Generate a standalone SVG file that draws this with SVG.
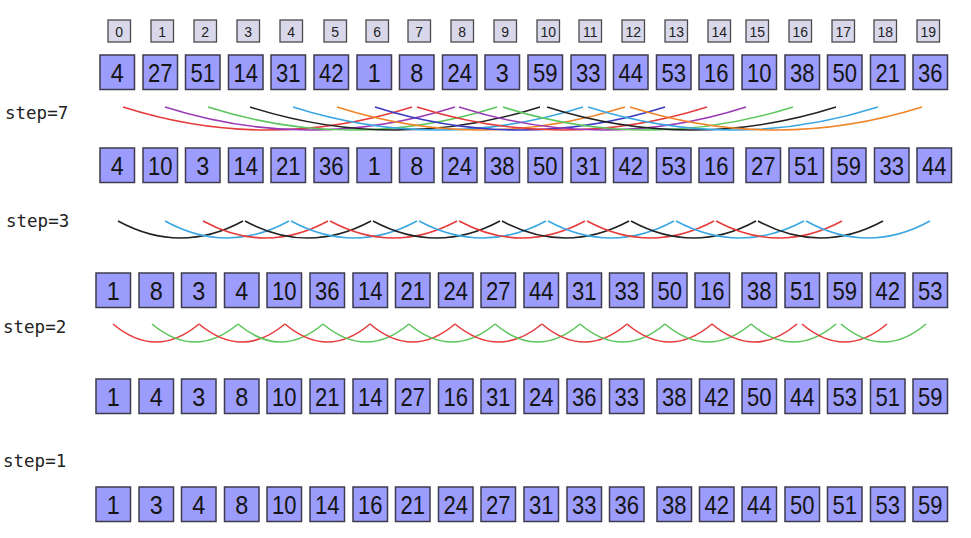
<svg xmlns="http://www.w3.org/2000/svg" width="971" height="538" viewBox="0 0 971 538">
<style>
.v use{fill:#9c9cfc;stroke:#3c3c4c;stroke-width:1.5}
.v text{font-family:"Liberation Sans",Arial,sans-serif;font-size:26.5px;text-anchor:middle;fill:#141414}
.i use{fill:#d8d8ea;stroke:#4a4a4a;stroke-width:1.3}
.i text{font-family:"Liberation Sans",Arial,sans-serif;font-size:14px;text-anchor:middle;fill:#222}
.lbl{font-family:"DejaVu Sans Mono","Liberation Mono",monospace;font-size:17.5px;fill:#222}
.c path{fill:none;stroke-width:1.6}
.rd{stroke:#e63c3c}.pu{stroke:#9a3ab4}.gr{stroke:#5cc65c}.bk{stroke:#222}.bl{stroke:#3aa6e2}.or{stroke:#f08428}.db{stroke:#3a3ac4}
</style>
<rect width="971" height="538" fill="#fff"/>
<defs>
<rect id="vb" width="34.5" height="34.5"/>
<rect id="ib" width="22.5" height="22"/>
</defs>
<g id="labels">
<text class="lbl" x="5" y="119">step=7</text>
<text class="lbl" x="6" y="227">step=3</text>
<text class="lbl" x="3" y="333">step=2</text>
<text class="lbl" x="3" y="467">step=1</text>
</g>
<g id="index-row" class="i">
<g id="i0" transform="translate(108,20)"><use href="#ib"/><text x="11.25" y="16.8">0</text></g>
<g id="i1" transform="translate(151,20)"><use href="#ib"/><text x="11.25" y="16.8">1</text></g>
<g id="i2" transform="translate(194,20)"><use href="#ib"/><text x="11.25" y="16.8">2</text></g>
<g id="i3" transform="translate(237,20)"><use href="#ib"/><text x="11.25" y="16.8">3</text></g>
<g id="i4" transform="translate(280,20)"><use href="#ib"/><text x="11.25" y="16.8">4</text></g>
<g id="i5" transform="translate(324,20)"><use href="#ib"/><text x="11.25" y="16.8">5</text></g>
<g id="i6" transform="translate(366,20)"><use href="#ib"/><text x="11.25" y="16.8">6</text></g>
<g id="i7" transform="translate(408,20)"><use href="#ib"/><text x="11.25" y="16.8">7</text></g>
<g id="i8" transform="translate(451,20)"><use href="#ib"/><text x="11.25" y="16.8">8</text></g>
<g id="i9" transform="translate(494,20)"><use href="#ib"/><text x="11.25" y="16.8">9</text></g>
<g id="i10" transform="translate(537,20)"><use href="#ib"/><text x="11.25" y="16.8">10</text></g>
<g id="i11" transform="translate(579,20)"><use href="#ib"/><text x="11.25" y="16.8">11</text></g>
<g id="i12" transform="translate(622,20)"><use href="#ib"/><text x="11.25" y="16.8">12</text></g>
<g id="i13" transform="translate(665,20)"><use href="#ib"/><text x="11.25" y="16.8">13</text></g>
<g id="i14" transform="translate(708,20)"><use href="#ib"/><text x="11.25" y="16.8">14</text></g>
<g id="i15" transform="translate(746,20)"><use href="#ib"/><text x="11.25" y="16.8">15</text></g>
<g id="i16" transform="translate(789,20)"><use href="#ib"/><text x="11.25" y="16.8">16</text></g>
<g id="i17" transform="translate(832,20)"><use href="#ib"/><text x="11.25" y="16.8">17</text></g>
<g id="i18" transform="translate(874,20)"><use href="#ib"/><text x="11.25" y="16.8">18</text></g>
<g id="i19" transform="translate(917,20)"><use href="#ib"/><text x="11.25" y="16.8">19</text></g>
</g>
<g id="row-initial" class="v">
<g id="a0" transform="translate(100,55)"><use href="#vb"/><text x="17.25" y="27" textLength="13" lengthAdjust="spacingAndGlyphs">4</text></g>
<g id="a1" transform="translate(143,55)"><use href="#vb"/><text x="17.25" y="27" textLength="24.5" lengthAdjust="spacingAndGlyphs">27</text></g>
<g id="a2" transform="translate(185.5,55)"><use href="#vb"/><text x="17.25" y="27" textLength="24.5" lengthAdjust="spacingAndGlyphs">51</text></g>
<g id="a3" transform="translate(228.5,55)"><use href="#vb"/><text x="17.25" y="27" textLength="24.5" lengthAdjust="spacingAndGlyphs">14</text></g>
<g id="a4" transform="translate(271,55)"><use href="#vb"/><text x="17.25" y="27" textLength="24.5" lengthAdjust="spacingAndGlyphs">31</text></g>
<g id="a5" transform="translate(314,55)"><use href="#vb"/><text x="17.25" y="27" textLength="24.5" lengthAdjust="spacingAndGlyphs">42</text></g>
<g id="a6" transform="translate(357,55)"><use href="#vb"/><text x="17.25" y="27" textLength="13" lengthAdjust="spacingAndGlyphs">1</text></g>
<g id="a7" transform="translate(399.5,55)"><use href="#vb"/><text x="17.25" y="27" textLength="13" lengthAdjust="spacingAndGlyphs">8</text></g>
<g id="a8" transform="translate(442.5,55)"><use href="#vb"/><text x="17.25" y="27" textLength="24.5" lengthAdjust="spacingAndGlyphs">24</text></g>
<g id="a9" transform="translate(485,55)"><use href="#vb"/><text x="17.25" y="27" textLength="13" lengthAdjust="spacingAndGlyphs">3</text></g>
<g id="a10" transform="translate(528,55)"><use href="#vb"/><text x="17.25" y="27" textLength="24.5" lengthAdjust="spacingAndGlyphs">59</text></g>
<g id="a11" transform="translate(571,55)"><use href="#vb"/><text x="17.25" y="27" textLength="24.5" lengthAdjust="spacingAndGlyphs">33</text></g>
<g id="a12" transform="translate(613.5,55)"><use href="#vb"/><text x="17.25" y="27" textLength="24.5" lengthAdjust="spacingAndGlyphs">44</text></g>
<g id="a13" transform="translate(656.5,55)"><use href="#vb"/><text x="17.25" y="27" textLength="24.5" lengthAdjust="spacingAndGlyphs">53</text></g>
<g id="a14" transform="translate(699,55)"><use href="#vb"/><text x="17.25" y="27" textLength="24.5" lengthAdjust="spacingAndGlyphs">16</text></g>
<g id="a15" transform="translate(742,55)"><use href="#vb"/><text x="17.25" y="27" textLength="24.5" lengthAdjust="spacingAndGlyphs">10</text></g>
<g id="a16" transform="translate(785,55)"><use href="#vb"/><text x="17.25" y="27" textLength="24.5" lengthAdjust="spacingAndGlyphs">38</text></g>
<g id="a17" transform="translate(827.5,55)"><use href="#vb"/><text x="17.25" y="27" textLength="24.5" lengthAdjust="spacingAndGlyphs">50</text></g>
<g id="a18" transform="translate(870.5,55)"><use href="#vb"/><text x="17.25" y="27" textLength="24.5" lengthAdjust="spacingAndGlyphs">21</text></g>
<g id="a19" transform="translate(913,55)"><use href="#vb"/><text x="17.25" y="27" textLength="24.5" lengthAdjust="spacingAndGlyphs">36</text></g>
</g>
<g id="row-step7" class="v">
<g id="b0" transform="translate(100,148)"><use href="#vb"/><text x="17.25" y="27" textLength="13" lengthAdjust="spacingAndGlyphs">4</text></g>
<g id="b1" transform="translate(143,148)"><use href="#vb"/><text x="17.25" y="27" textLength="24.5" lengthAdjust="spacingAndGlyphs">10</text></g>
<g id="b2" transform="translate(185.5,148)"><use href="#vb"/><text x="17.25" y="27" textLength="13" lengthAdjust="spacingAndGlyphs">3</text></g>
<g id="b3" transform="translate(228.5,148)"><use href="#vb"/><text x="17.25" y="27" textLength="24.5" lengthAdjust="spacingAndGlyphs">14</text></g>
<g id="b4" transform="translate(271,148)"><use href="#vb"/><text x="17.25" y="27" textLength="24.5" lengthAdjust="spacingAndGlyphs">21</text></g>
<g id="b5" transform="translate(314,148)"><use href="#vb"/><text x="17.25" y="27" textLength="24.5" lengthAdjust="spacingAndGlyphs">36</text></g>
<g id="b6" transform="translate(357,148)"><use href="#vb"/><text x="17.25" y="27" textLength="13" lengthAdjust="spacingAndGlyphs">1</text></g>
<g id="b7" transform="translate(399.5,148)"><use href="#vb"/><text x="17.25" y="27" textLength="13" lengthAdjust="spacingAndGlyphs">8</text></g>
<g id="b8" transform="translate(442.5,148)"><use href="#vb"/><text x="17.25" y="27" textLength="24.5" lengthAdjust="spacingAndGlyphs">24</text></g>
<g id="b9" transform="translate(485,148)"><use href="#vb"/><text x="17.25" y="27" textLength="24.5" lengthAdjust="spacingAndGlyphs">38</text></g>
<g id="b10" transform="translate(528,148)"><use href="#vb"/><text x="17.25" y="27" textLength="24.5" lengthAdjust="spacingAndGlyphs">50</text></g>
<g id="b11" transform="translate(571,148)"><use href="#vb"/><text x="17.25" y="27" textLength="24.5" lengthAdjust="spacingAndGlyphs">31</text></g>
<g id="b12" transform="translate(613.5,148)"><use href="#vb"/><text x="17.25" y="27" textLength="24.5" lengthAdjust="spacingAndGlyphs">42</text></g>
<g id="b13" transform="translate(656.5,148)"><use href="#vb"/><text x="17.25" y="27" textLength="24.5" lengthAdjust="spacingAndGlyphs">53</text></g>
<g id="b14" transform="translate(699,148)"><use href="#vb"/><text x="17.25" y="27" textLength="24.5" lengthAdjust="spacingAndGlyphs">16</text></g>
<g id="b15" transform="translate(746,148)"><use href="#vb"/><text x="17.25" y="27" textLength="24.5" lengthAdjust="spacingAndGlyphs">27</text></g>
<g id="b16" transform="translate(789,148)"><use href="#vb"/><text x="17.25" y="27" textLength="24.5" lengthAdjust="spacingAndGlyphs">51</text></g>
<g id="b17" transform="translate(831.5,148)"><use href="#vb"/><text x="17.25" y="27" textLength="24.5" lengthAdjust="spacingAndGlyphs">59</text></g>
<g id="b18" transform="translate(874.5,148)"><use href="#vb"/><text x="17.25" y="27" textLength="24.5" lengthAdjust="spacingAndGlyphs">33</text></g>
<g id="b19" transform="translate(917,148)"><use href="#vb"/><text x="17.25" y="27" textLength="24.5" lengthAdjust="spacingAndGlyphs">44</text></g>
</g>
<g id="row-step3" class="v">
<g id="c0" transform="translate(96,273)"><use href="#vb"/><text x="17.25" y="27" textLength="13" lengthAdjust="spacingAndGlyphs">1</text></g>
<g id="c1" transform="translate(139,273)"><use href="#vb"/><text x="17.25" y="27" textLength="13" lengthAdjust="spacingAndGlyphs">8</text></g>
<g id="c2" transform="translate(181.5,273)"><use href="#vb"/><text x="17.25" y="27" textLength="13" lengthAdjust="spacingAndGlyphs">3</text></g>
<g id="c3" transform="translate(224.5,273)"><use href="#vb"/><text x="17.25" y="27" textLength="13" lengthAdjust="spacingAndGlyphs">4</text></g>
<g id="c4" transform="translate(267,273)"><use href="#vb"/><text x="17.25" y="27" textLength="24.5" lengthAdjust="spacingAndGlyphs">10</text></g>
<g id="c5" transform="translate(310,273)"><use href="#vb"/><text x="17.25" y="27" textLength="24.5" lengthAdjust="spacingAndGlyphs">36</text></g>
<g id="c6" transform="translate(353,273)"><use href="#vb"/><text x="17.25" y="27" textLength="24.5" lengthAdjust="spacingAndGlyphs">14</text></g>
<g id="c7" transform="translate(395.5,273)"><use href="#vb"/><text x="17.25" y="27" textLength="24.5" lengthAdjust="spacingAndGlyphs">21</text></g>
<g id="c8" transform="translate(438.5,273)"><use href="#vb"/><text x="17.25" y="27" textLength="24.5" lengthAdjust="spacingAndGlyphs">24</text></g>
<g id="c9" transform="translate(481,273)"><use href="#vb"/><text x="17.25" y="27" textLength="24.5" lengthAdjust="spacingAndGlyphs">27</text></g>
<g id="c10" transform="translate(524,273)"><use href="#vb"/><text x="17.25" y="27" textLength="24.5" lengthAdjust="spacingAndGlyphs">44</text></g>
<g id="c11" transform="translate(567,273)"><use href="#vb"/><text x="17.25" y="27" textLength="24.5" lengthAdjust="spacingAndGlyphs">31</text></g>
<g id="c12" transform="translate(609.5,273)"><use href="#vb"/><text x="17.25" y="27" textLength="24.5" lengthAdjust="spacingAndGlyphs">33</text></g>
<g id="c13" transform="translate(652.5,273)"><use href="#vb"/><text x="17.25" y="27" textLength="24.5" lengthAdjust="spacingAndGlyphs">50</text></g>
<g id="c14" transform="translate(695,273)"><use href="#vb"/><text x="17.25" y="27" textLength="24.5" lengthAdjust="spacingAndGlyphs">16</text></g>
<g id="c15" transform="translate(742,273)"><use href="#vb"/><text x="17.25" y="27" textLength="24.5" lengthAdjust="spacingAndGlyphs">38</text></g>
<g id="c16" transform="translate(785,273)"><use href="#vb"/><text x="17.25" y="27" textLength="24.5" lengthAdjust="spacingAndGlyphs">51</text></g>
<g id="c17" transform="translate(827.5,273)"><use href="#vb"/><text x="17.25" y="27" textLength="24.5" lengthAdjust="spacingAndGlyphs">59</text></g>
<g id="c18" transform="translate(870.5,273)"><use href="#vb"/><text x="17.25" y="27" textLength="24.5" lengthAdjust="spacingAndGlyphs">42</text></g>
<g id="c19" transform="translate(913,273)"><use href="#vb"/><text x="17.25" y="27" textLength="24.5" lengthAdjust="spacingAndGlyphs">53</text></g>
</g>
<g id="row-step2" class="v">
<g id="d0" transform="translate(96,379)"><use href="#vb"/><text x="17.25" y="27" textLength="13" lengthAdjust="spacingAndGlyphs">1</text></g>
<g id="d1" transform="translate(139,379)"><use href="#vb"/><text x="17.25" y="27" textLength="13" lengthAdjust="spacingAndGlyphs">4</text></g>
<g id="d2" transform="translate(181.5,379)"><use href="#vb"/><text x="17.25" y="27" textLength="13" lengthAdjust="spacingAndGlyphs">3</text></g>
<g id="d3" transform="translate(224.5,379)"><use href="#vb"/><text x="17.25" y="27" textLength="13" lengthAdjust="spacingAndGlyphs">8</text></g>
<g id="d4" transform="translate(267,379)"><use href="#vb"/><text x="17.25" y="27" textLength="24.5" lengthAdjust="spacingAndGlyphs">10</text></g>
<g id="d5" transform="translate(310,379)"><use href="#vb"/><text x="17.25" y="27" textLength="24.5" lengthAdjust="spacingAndGlyphs">21</text></g>
<g id="d6" transform="translate(353,379)"><use href="#vb"/><text x="17.25" y="27" textLength="24.5" lengthAdjust="spacingAndGlyphs">14</text></g>
<g id="d7" transform="translate(395.5,379)"><use href="#vb"/><text x="17.25" y="27" textLength="24.5" lengthAdjust="spacingAndGlyphs">27</text></g>
<g id="d8" transform="translate(438.5,379)"><use href="#vb"/><text x="17.25" y="27" textLength="24.5" lengthAdjust="spacingAndGlyphs">16</text></g>
<g id="d9" transform="translate(481,379)"><use href="#vb"/><text x="17.25" y="27" textLength="24.5" lengthAdjust="spacingAndGlyphs">31</text></g>
<g id="d10" transform="translate(524,379)"><use href="#vb"/><text x="17.25" y="27" textLength="24.5" lengthAdjust="spacingAndGlyphs">24</text></g>
<g id="d11" transform="translate(567,379)"><use href="#vb"/><text x="17.25" y="27" textLength="24.5" lengthAdjust="spacingAndGlyphs">36</text></g>
<g id="d12" transform="translate(609.5,379)"><use href="#vb"/><text x="17.25" y="27" textLength="24.5" lengthAdjust="spacingAndGlyphs">33</text></g>
<g id="d13" transform="translate(657,379)"><use href="#vb"/><text x="17.25" y="27" textLength="24.5" lengthAdjust="spacingAndGlyphs">38</text></g>
<g id="d14" transform="translate(699.5,379)"><use href="#vb"/><text x="17.25" y="27" textLength="24.5" lengthAdjust="spacingAndGlyphs">42</text></g>
<g id="d15" transform="translate(742,379)"><use href="#vb"/><text x="17.25" y="27" textLength="24.5" lengthAdjust="spacingAndGlyphs">50</text></g>
<g id="d16" transform="translate(785,379)"><use href="#vb"/><text x="17.25" y="27" textLength="24.5" lengthAdjust="spacingAndGlyphs">44</text></g>
<g id="d17" transform="translate(827.5,379)"><use href="#vb"/><text x="17.25" y="27" textLength="24.5" lengthAdjust="spacingAndGlyphs">53</text></g>
<g id="d18" transform="translate(870.5,379)"><use href="#vb"/><text x="17.25" y="27" textLength="24.5" lengthAdjust="spacingAndGlyphs">51</text></g>
<g id="d19" transform="translate(913,379)"><use href="#vb"/><text x="17.25" y="27" textLength="24.5" lengthAdjust="spacingAndGlyphs">59</text></g>
</g>
<g id="row-step1" class="v">
<g id="e0" transform="translate(96,487)"><use href="#vb"/><text x="17.25" y="27" textLength="13" lengthAdjust="spacingAndGlyphs">1</text></g>
<g id="e1" transform="translate(139,487)"><use href="#vb"/><text x="17.25" y="27" textLength="13" lengthAdjust="spacingAndGlyphs">3</text></g>
<g id="e2" transform="translate(181.5,487)"><use href="#vb"/><text x="17.25" y="27" textLength="13" lengthAdjust="spacingAndGlyphs">4</text></g>
<g id="e3" transform="translate(224.5,487)"><use href="#vb"/><text x="17.25" y="27" textLength="13" lengthAdjust="spacingAndGlyphs">8</text></g>
<g id="e4" transform="translate(267,487)"><use href="#vb"/><text x="17.25" y="27" textLength="24.5" lengthAdjust="spacingAndGlyphs">10</text></g>
<g id="e5" transform="translate(310,487)"><use href="#vb"/><text x="17.25" y="27" textLength="24.5" lengthAdjust="spacingAndGlyphs">14</text></g>
<g id="e6" transform="translate(353,487)"><use href="#vb"/><text x="17.25" y="27" textLength="24.5" lengthAdjust="spacingAndGlyphs">16</text></g>
<g id="e7" transform="translate(395.5,487)"><use href="#vb"/><text x="17.25" y="27" textLength="24.5" lengthAdjust="spacingAndGlyphs">21</text></g>
<g id="e8" transform="translate(438.5,487)"><use href="#vb"/><text x="17.25" y="27" textLength="24.5" lengthAdjust="spacingAndGlyphs">24</text></g>
<g id="e9" transform="translate(481,487)"><use href="#vb"/><text x="17.25" y="27" textLength="24.5" lengthAdjust="spacingAndGlyphs">27</text></g>
<g id="e10" transform="translate(524,487)"><use href="#vb"/><text x="17.25" y="27" textLength="24.5" lengthAdjust="spacingAndGlyphs">31</text></g>
<g id="e11" transform="translate(567,487)"><use href="#vb"/><text x="17.25" y="27" textLength="24.5" lengthAdjust="spacingAndGlyphs">33</text></g>
<g id="e12" transform="translate(609.5,487)"><use href="#vb"/><text x="17.25" y="27" textLength="24.5" lengthAdjust="spacingAndGlyphs">36</text></g>
<g id="e13" transform="translate(657,487)"><use href="#vb"/><text x="17.25" y="27" textLength="24.5" lengthAdjust="spacingAndGlyphs">38</text></g>
<g id="e14" transform="translate(699.5,487)"><use href="#vb"/><text x="17.25" y="27" textLength="24.5" lengthAdjust="spacingAndGlyphs">42</text></g>
<g id="e15" transform="translate(742,487)"><use href="#vb"/><text x="17.25" y="27" textLength="24.5" lengthAdjust="spacingAndGlyphs">44</text></g>
<g id="e16" transform="translate(785,487)"><use href="#vb"/><text x="17.25" y="27" textLength="24.5" lengthAdjust="spacingAndGlyphs">50</text></g>
<g id="e17" transform="translate(827.5,487)"><use href="#vb"/><text x="17.25" y="27" textLength="24.5" lengthAdjust="spacingAndGlyphs">51</text></g>
<g id="e18" transform="translate(870.5,487)"><use href="#vb"/><text x="17.25" y="27" textLength="24.5" lengthAdjust="spacingAndGlyphs">53</text></g>
<g id="e19" transform="translate(913,487)"><use href="#vb"/><text x="17.25" y="27" textLength="24.5" lengthAdjust="spacingAndGlyphs">59</text></g>
</g>
<g id="connectors" class="c">
<g id="arcs-step7">
<path class="rd" d="M123,107 Q267.5,153 412,107"/>
<path class="pu" d="M165,107 Q310,153 455,107"/>
<path class="gr" d="M208,107 Q352.5,153 497,107"/>
<path class="bk" d="M250,107 Q395,153 540,107"/>
<path class="bl" d="M293,107 Q438,153 583,107"/>
<path class="or" d="M337,107 Q481,153 625,107"/>
<path class="db" d="M375,107 Q520,153 665,107"/>
<path class="rd" d="M417,107 Q562,153 707,107"/>
<path class="pu" d="M459,107 Q602.5,153 746,107"/>
<path class="gr" d="M503,107 Q648,153 793,107"/>
<path class="bk" d="M547,107 Q691.5,153 836,107"/>
<path class="bl" d="M588,107 Q733,153 878,107"/>
<path class="or" d="M630,107 Q776,153 922,107"/>
</g>
<g id="arcs-step3">
<path class="bk" d="M118,221 Q180.5,255 243,221"/>
<path class="bl" d="M165,221 Q227,255 289,221"/>
<path class="rd" d="M203,221 Q265.5,255 328,221"/>
<path class="bk" d="M245,221 Q308,255 371,221"/>
<path class="bl" d="M291,221 Q354,255 417,221"/>
<path class="rd" d="M330,221 Q393.5,255 457,221"/>
<path class="bk" d="M373,221 Q436.5,255 500,221"/>
<path class="bl" d="M419,221 Q482.5,255 546,221"/>
<path class="rd" d="M459,221 Q522,255 585,221"/>
<path class="bk" d="M502,221 Q565.5,255 629,221"/>
<path class="bl" d="M548,221 Q611,255 674,221"/>
<path class="rd" d="M587,221 Q650.5,255 714,221"/>
<path class="bk" d="M631,221 Q693.5,255 756,221"/>
<path class="bl" d="M676,221 Q740,255 804,221"/>
<path class="rd" d="M716,221 Q779,255 842,221"/>
<path class="bk" d="M758,221 Q820.5,255 883,221"/>
<path class="bl" d="M806,221 Q868,255 930,221"/>
</g>
<g id="arcs-step2">
<path class="rd" d="M113,324 Q156,360 199,324"/>
<path class="gr" d="M152,324 Q195,360 238,324"/>
<path class="rd" d="M199,324 Q242,360 285,324"/>
<path class="gr" d="M238,324 Q280.5,360 323,324"/>
<path class="rd" d="M285,324 Q327.5,360 370,324"/>
<path class="gr" d="M323,324 Q366,360 409,324"/>
<path class="rd" d="M370,324 Q412.5,360 455,324"/>
<path class="gr" d="M409,324 Q452,360 495,324"/>
<path class="rd" d="M455,324 Q498.5,360 542,324"/>
<path class="gr" d="M495,324 Q537.5,360 580,324"/>
<path class="rd" d="M542,324 Q584.5,360 627,324"/>
<path class="gr" d="M580,324 Q622.5,360 665,324"/>
<path class="rd" d="M627,324 Q669.5,360 712,324"/>
<path class="gr" d="M665,324 Q708,360 751,324"/>
<path class="rd" d="M712,324 Q754.5,360 797,324"/>
<path class="gr" d="M751,324 Q793.5,360 836,324"/>
<path class="rd" d="M802,324 Q844.5,360 887,324"/>
<path class="gr" d="M841,324 Q883.5,360 926,324"/>
</g>
</g>
</svg>
